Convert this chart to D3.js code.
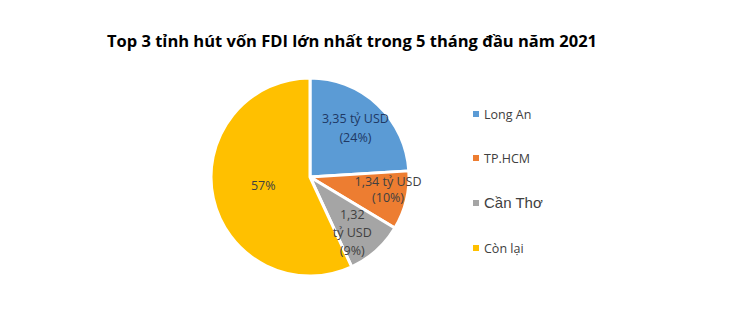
<!DOCTYPE html>
<html>
<head>
<meta charset="utf-8">
<script src="https://cdn.jsdelivr.net/npm/d3@7"></script>
<style>
  body { margin:0; background:#fff; }
  svg { display:block; }
  .title { font-family:"Open Sans", sans-serif; font-weight:bold; font-size:16.5px; fill:#000; }
  .lbl { font-family:"Open Sans", sans-serif; font-size:12.5px; }
  .legend text { font-family:"Open Sans", sans-serif; font-size:12.5px; fill:#404040; }
</style>
</head>
<body>
<script>
// data
var names = ["Long An", "TP.HCM", "Cần Thơ", "Còn lại"];
var values = [3.35, 1.34, 1.32, 7.94];
var labels = [["3,35 tỷ USD", "(24%)"], ["1,34 tỷ USD", "(10%)"], ["1,32", "tỷ USD", "(9%)"], ["57%"]];
var colors = ["#5b9bd5", "#ed7d31", "#a5a5a5", "#ffc000"];
var labelColors = ["#203864", "#404040", "#404040", "#404040"];

var width = 748, height = 323;
var cx = 310, cy = 177, radius = 99;

var svg = d3.select("body").append("svg")
    .attr("width", width)
    .attr("height", height);

svg.append("text")
    .attr("class", "title")
    .attr("x", 352)
    .attr("y", 47)
    .attr("text-anchor", "middle")
    .text("Top 3 tỉnh hút vốn FDI lớn nhất trong 5 tháng đầu năm 2021");

var pie = d3.pie().sort(null).value(d => d);
var arcs = pie(values);
var arc = d3.arc().innerRadius(0).outerRadius(radius);

var g = svg.append("g").attr("transform", "translate(" + cx + "," + cy + ")");

g.selectAll("path")
    .data(arcs)
    .enter().append("path")
    .attr("d", arc)
    .attr("fill", (d, i) => colors[i])
    .attr("stroke", "#fff")
    .attr("stroke-width", 3)
    .attr("stroke-linejoin", "round");

// label placement: fraction of radius, angle shift (deg)
var labelArc = [0.67, 0.8, 0.71, 0.48];
var labelShift = [0, -4, 5, 2];
var lineH = [19, 16, 18, 18];
g.selectAll("text.lbl")
    .data(arcs)
    .enter().append("text")
    .attr("class", "lbl")
    .attr("text-anchor", "middle")
    .attr("fill", (d, i) => labelColors[i])
    .each(function(d, i) {
      var a = (d.startAngle + d.endAngle) / 2 + labelShift[i] * Math.PI / 180;
      var r = radius * labelArc[i];
      var x = Math.sin(a) * r, y = -Math.cos(a) * r;
      var lines = labels[i];
      var y0 = y - (lines.length - 1) * lineH[i] / 2 + 4;
      var t = d3.select(this);
      lines.forEach(function(s, k) {
        t.append("tspan").attr("x", x).attr("y", y0 + k * lineH[i]).text(s);
      });
    });

// legend
var legendY = [114, 158, 203, 248];
var leg = svg.append("g").attr("class", "legend");
var item = leg.selectAll("g")
    .data(names)
    .enter().append("g")
    .attr("transform", (d, i) => "translate(473," + legendY[i] + ")");
item.append("rect")
    .attr("x", 0).attr("y", -3)
    .attr("width", 6).attr("height", 6)
    .attr("fill", (d, i) => colors[i]);
item.append("text")
    .attr("x", 11)
    .attr("y", 4.5)
    .style("font-family", (d, i) => i === 2 ? "Liberation Sans, Arial, sans-serif" : null)
    .style("font-size", (d, i) => i === 2 ? "15px" : null)
    .text(d => d);
</script>
</body>
</html>
